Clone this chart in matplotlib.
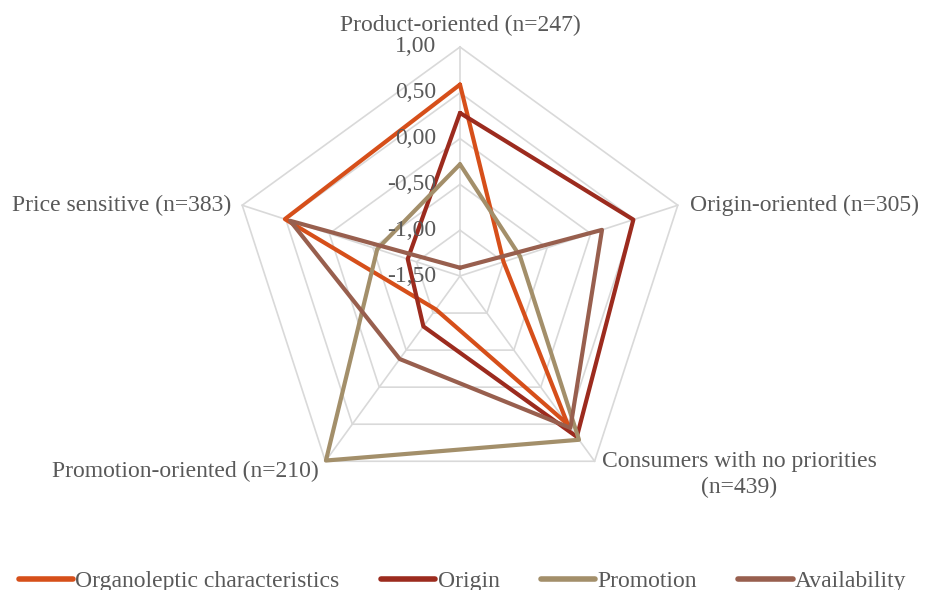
import numpy as np
import matplotlib.pyplot as plt

plt.rcParams['font.family'] = ['Liberation Serif', 'DejaVu Serif']

# segments (clockwise from top)
categories = ['Product-oriented (n=247)', 'Origin-oriented (n=305)',
              'Consumers with no priorities\n(n=439)', 'Promotion-oriented (n=210)',
              'Price sensitive (n=383)']
organoleptic = [0.59, -1.00, 0.50, -1.05, 0.51]
origin = [0.28, 0.49, 0.67, -0.82, -0.90]
promotion = [-0.28, -0.81, 0.71, 0.99, -0.55]
availability = [-1.41, 0.13, 0.55, -0.38, 0.45]
tick_vals = [-1.5, -1.0, -0.5, 0.0, 0.5, 1.0]
tick_labels = ['-1,50', '-1,00', '-0,50', '0,00', '0,50', '1,00']

series = [('Organoleptic characteristics', organoleptic, '#d64f1a'),
          ('Origin', origin, '#9c2b1e'),
          ('Promotion', promotion, '#a38f6a'),
          ('Availability', availability, '#985f4e')]

txt_col = '#595959'
grid_col = '#d9d9d9'
fs = 17

fig = plt.figure(figsize=(9.25, 5.9), dpi=100)
cx, cy, R = 460 / 925, 1 - 276 / 590, 229
ax = fig.add_axes([cx - R / 925, cy - R / 590, 2 * R / 925, 2 * R / 590], projection='polar')
ax.set_theta_offset(np.pi / 2)
ax.set_theta_direction(-1)
ax.set_ylim(-1.5, 1.0)
ax.grid(False)
ax.spines['polar'].set_visible(False)
ax.set_xticks([])
ax.set_yticks([])
ax.patch.set_visible(False)

n = len(categories)
angles = np.linspace(0, 2 * np.pi, n, endpoint=False)
closed = np.append(angles, angles[0])

# pentagon grid
for v in tick_vals:
    ax.plot(closed, [v] * (n + 1), color=grid_col, lw=1.2, zorder=1, clip_on=False)
for a in angles:
    ax.plot([a, a], [-1.5, 1.0], color=grid_col, lw=1.2, zorder=1, clip_on=False)

for name, vals, col in series:
    ax.plot(closed, vals + vals[:1], color=col, lw=3, label=name,
             solid_joinstyle='round', solid_capstyle='round', zorder=3, clip_on=False)

for v, lab in zip(tick_vals, tick_labels):
    ax.annotate(lab, xy=(0, v), xytext=(-17, 0), textcoords='offset points',
                ha='right', va='center', fontsize=fs, color=txt_col, zorder=4)

# category labels
offsets = [(0, 15.5, 'center', 'center'), (9, 0, 'left', 'center'), (5, -9.5, 'left', 'center'),
           (-5, -7, 'right', 'center'), (-8, 0, 'right', 'center')]
for a, lab, (dx, dy, ha, va) in zip(angles, categories, offsets):
    ax.annotate(lab, xy=(a, 1.0), xytext=(dx, dy), textcoords='offset points',
                ha=ha, va=va, fontsize=fs, color=txt_col, multialignment='center',
                linespacing=1.35)

leg = fig.legend(loc='center', bbox_to_anchor=(0.5, 1 - 581 / 590), ncol=4, frameon=False,
                 fontsize=fs, handlelength=2.3, handletextpad=0.1, columnspacing=1.75)
for t in leg.get_texts():
    t.set_color(txt_col)
for h in leg.get_lines():
    h.set_linewidth(4)

fig.savefig('out.png', dpi=100)
